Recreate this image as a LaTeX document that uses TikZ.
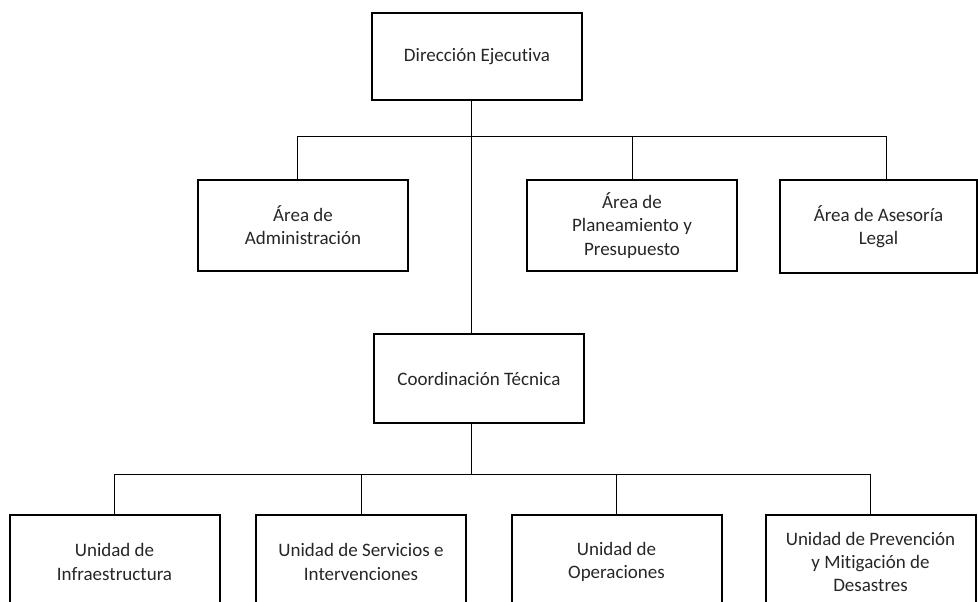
\documentclass[tikz,border=0pt]{standalone}
\usepackage{fontspec}
\setmainfont[Ligatures=NoCommon]{Carlito}

\begin{document}
\begin{tikzpicture}[x=0.5pt,y=-0.5pt,
    orgbox/.style={draw,line width=1pt,minimum width=105pt,minimum
      height=45.5pt,inner sep=0pt,align=center,text=black!85,
      font=\fontsize{9.5}{11.6}\selectfont},
    link/.style={line width=0.5pt}]

    \useasboundingbox (0,0) rectangle (978,601);
    \clip (0,0) rectangle (978,601);

    \node[orgbox,minimum height=43.5pt] (dir) at (477,56.5) {Dirección Ejecutiva};
    \node[orgbox] (adm) at (303,225.5) {Área de\\Administración};
    \node[orgbox] (plan) at (632,225.5) {Área de\\Planeamiento y\\Presupuesto};
    \node[orgbox,minimum width=98.5pt,minimum height=46.5pt] (legal) at (878.5,226.5)
      {Área de Asesoría\\Legal};
    \node[orgbox,minimum height=44.5pt] (coord) at (479,378.5) {Coordinación Técnica};

    \foreach \nm/\cx/\txt in {infra/114.5/{Unidad de\\Infraestructura},
      serv/361/{Unidad de Servicios e\\Intervenciones},
      oper/616.5/{Unidad de\\Operaciones},
      prev/870.5/{Unidad de Prevención\\y Mitigación de\\Desastres}} {
      \node[orgbox,minimum height=47pt] (\nm) at (\cx,562) {\txt};
    }

    % upper level
    \coordinate (trunk) at (471,136);
    \coordinate (busL) at (297,136);
    \coordinate (busR) at (886,136);
    \draw[link] (dir.south -| trunk) -- (coord.north -| trunk);
    \draw[link] (busL) -- (busR);
    \draw[link] (busL) -- (busL |- adm.north);
    \draw[link] (plan.north |- busL) -- (plan.north);
    \draw[link] (busR) -- (busR |- legal.north);

    % lower level
    \coordinate (bus2) at (0,474);
    \draw[link] (coord.south -| trunk) -- (trunk |- bus2);
    \draw[link] (infra.north |- bus2) -- (prev.north |- bus2);
    \foreach \nm in {infra,serv,oper,prev}
      \draw[link] (\nm.north |- bus2) -- (\nm.north);

  \end{tikzpicture}
\end{document}
